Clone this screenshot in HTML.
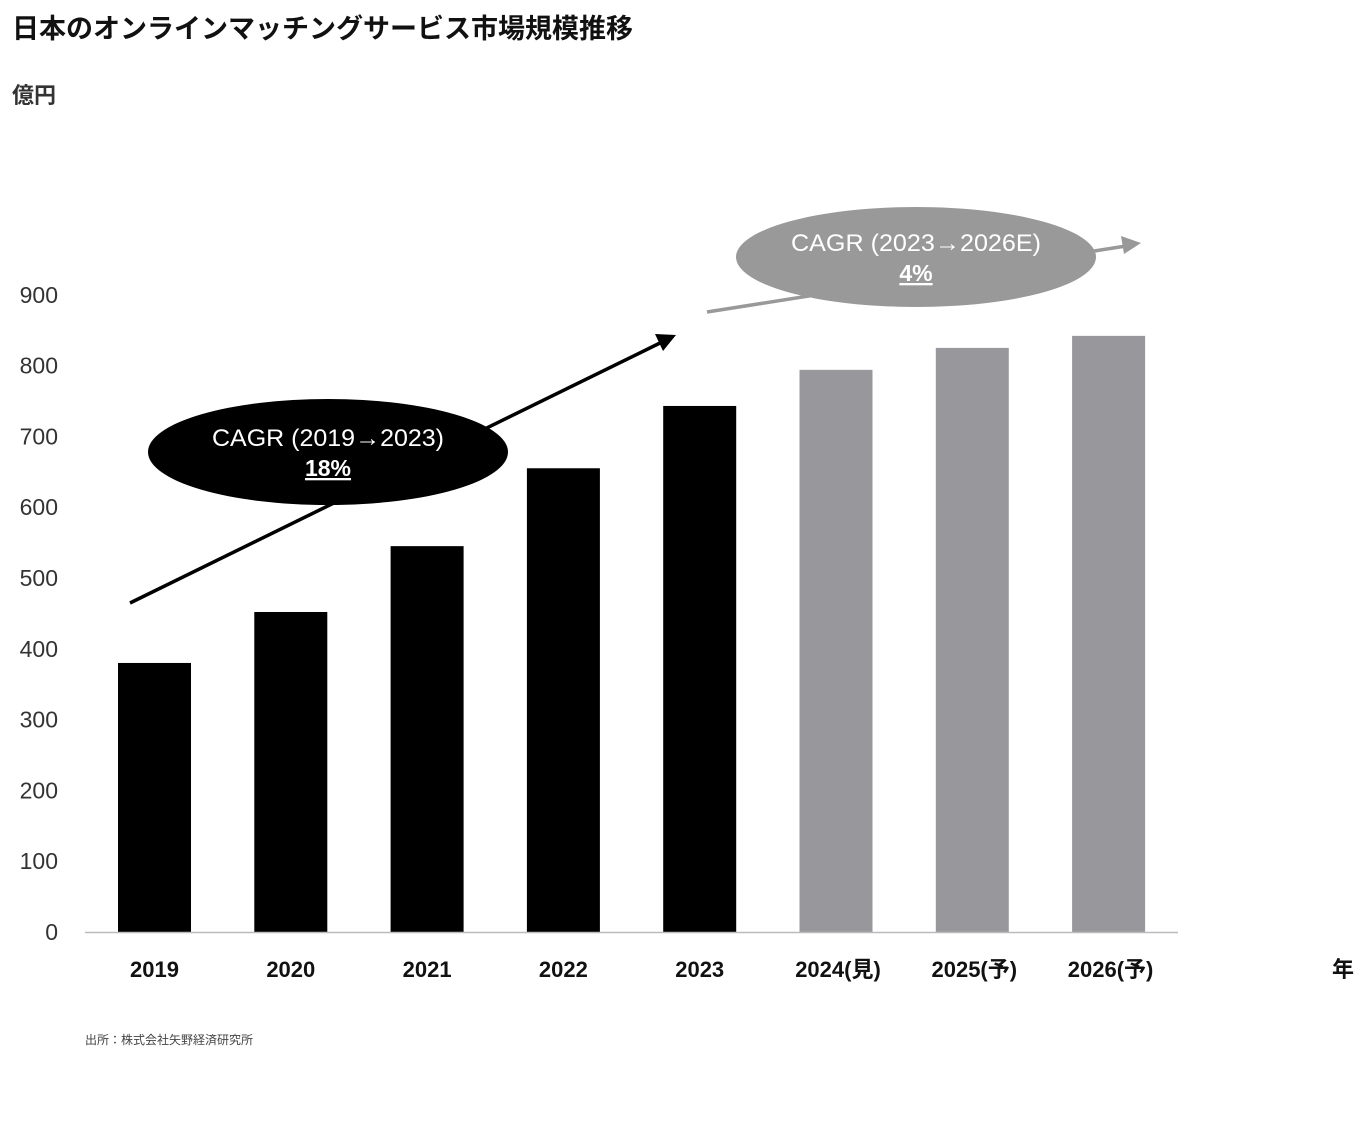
<!DOCTYPE html>
<html><head><meta charset="utf-8">
<style>
body{margin:0;background:#fff;width:1360px;height:1122px;overflow:hidden;font-family:"Liberation Sans","Noto Sans CJK JP",sans-serif;}
</style></head><body>
<svg width="1360" height="1122" xmlns="http://www.w3.org/2000/svg" style="font-family:'Liberation Sans','Noto Sans CJK JP',sans-serif">
<text x="12" y="38" font-size="27" font-weight="bold" fill="#111">日本のオンラインマッチングサービス市場規模推移</text>
<text x="12" y="103" font-size="22" font-weight="bold" fill="#333">億円</text>
<text x="1332" y="977" font-size="22" font-weight="bold" fill="#111">年</text>
<text x="85" y="1044" font-size="12" fill="#444">出所：株式会社矢野経済研究所</text>
<g id="ticks"></g>
<g id="bars"></g>
<line x1="85" y1="932.5" x2="1178" y2="932.5" stroke="#bbb" stroke-width="1.5"/>
<g id="xlabels"></g>
<defs>
<marker id="ab" markerWidth="10" markerHeight="10" refX="8" refY="5" orient="auto" markerUnits="userSpaceOnUse" viewBox="0 0 10 10"><path d="M0,0 L10,5 L0,10 z" fill="#000" transform="scale(2)" /></marker>
</defs>
<line x1="130" y1="603" x2="660" y2="343" stroke="#000" stroke-width="3.5"/>
<polygon points="676,335 655,334 663,351" fill="#000"/>
<line x1="707" y1="312" x2="1126" y2="246" stroke="#999" stroke-width="3.5"/>
<polygon points="1141,243 1121,236 1124,254" fill="#999"/>
<ellipse cx="328" cy="452" rx="180" ry="53" fill="#000"/>
<text x="328" y="446" font-size="24" fill="#fff" text-anchor="middle" textLength="232" lengthAdjust="spacingAndGlyphs">CAGR (2019→2023)</text>
<text x="328" y="476" font-size="23" font-weight="bold" fill="#fff" text-anchor="middle" text-decoration="underline">18%</text>
<ellipse cx="916" cy="257" rx="180" ry="50" fill="#999"/>
<text x="916" y="251" font-size="24" fill="#fff" text-anchor="middle" textLength="250" lengthAdjust="spacingAndGlyphs">CAGR (2023→2026E)</text>
<text x="916" y="281" font-size="23" font-weight="bold" fill="#fff" text-anchor="middle" text-decoration="underline">4%</text>
</svg>
<script>
const categories=["2019","2020","2021","2022","2023","2024(見)","2025(予)","2026(予)"];
const values=[380,452,545,655,743,794,825,842];
const forecast=[false,false,false,false,false,true,true,true];
const tickValues=[0,100,200,300,400,500,600,700,800,900];
const NS="http://www.w3.org/2000/svg";
const y=v=>932-v*0.708;
const xc=i=>154.5+i*136.3;
const bw=73;
const tg=document.getElementById('ticks'),bg=document.getElementById('bars'),lg=document.getElementById('xlabels');
tickValues.forEach(v=>{const t=document.createElementNS(NS,'text');


t.setAttribute('x',58);t.setAttribute('y',y(v)+8);t.setAttribute('text-anchor','end');t.setAttribute('font-size','23');t.setAttribute('fill','#333');t.textContent=v;tg.appendChild(t);});
categories.forEach((c,i)=>{const r=document.createElementNS(NS,'rect');


r.setAttribute('x',xc(i)-bw/2);r.setAttribute('y',y(values[i]));r.setAttribute('width',bw);r.setAttribute('height',932-y(values[i]));r.setAttribute('fill',forecast[i]?'#98989c':'#000');bg.appendChild(r);
const t=document.createElementNS(NS,'text');


t.setAttribute('x',xc(i)+(forecast[i]?2:0));t.setAttribute('y',977);t.setAttribute('text-anchor','middle');t.setAttribute('font-size','22');t.setAttribute('font-weight','bold');t.setAttribute('fill','#111');t.textContent=c;lg.appendChild(t);});
</script>
</body></html>
